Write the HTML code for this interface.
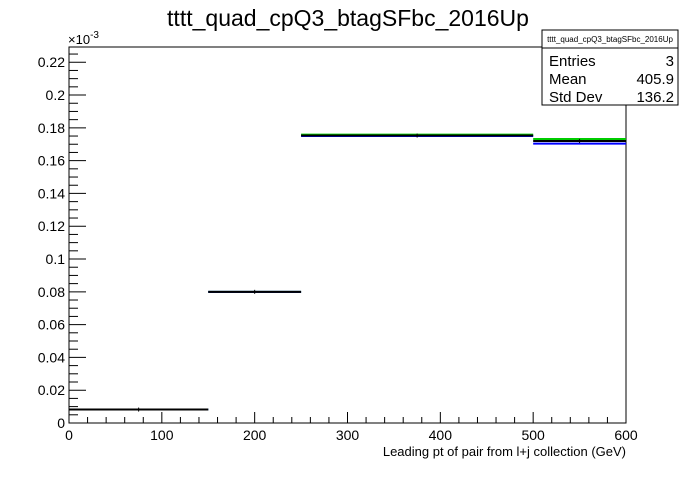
<!DOCTYPE html>
<html><head><meta charset="utf-8"><style>
body{margin:0;background:#fff;font-family:"Liberation Sans",sans-serif}
</style></head><body>
<svg width="696" height="472" xmlns="http://www.w3.org/2000/svg" font-family="Liberation Sans, sans-serif">
<rect width="696" height="472" fill="#fff"/>
<text x="348" y="26" font-size="23" text-anchor="middle">tttt_quad_cpQ3_btagSFbc_2016Up</text>
<rect x="69" y="47" width="557" height="376" fill="none" stroke="#000"/>
<g id="axes"></g>
<g id="marks"></g>
<text x="68" y="44" font-size="13">×10<tspan dy="-6" font-size="10">-3</tspan></text>
<text x="626" y="456" font-size="13" text-anchor="end">Leading pt of pair from l+j collection (GeV)</text>
<g>
<rect x="542" y="30" width="136" height="75" fill="#fff" stroke="#000"/>
<line x1="542" y1="48" x2="678" y2="48" stroke="#000"/>
<text x="610" y="42" font-size="8" text-anchor="middle">tttt_quad_cpQ3_btagSFbc_2016Up</text>
<text x="549" y="66" font-size="15">Entries</text><text x="674" y="66" font-size="15" text-anchor="end">3</text>
<text x="549" y="84" font-size="15">Mean</text><text x="674" y="84" font-size="15" text-anchor="end">405.9</text>
<text x="549" y="102" font-size="15">Std Dev</text><text x="674" y="102" font-size="15" text-anchor="end">136.2</text>
</g>
</svg>
<script>
const binEdges=[0,150,250,500,600];
const nominal=[0.0082,0.0800,0.1753,0.1720];
const upVar=[0.0082,0.0800,0.1759,0.1732];
const downVar=[0.0082,0.0800,0.1750,0.1704];
const xTicks=[0,100,200,300,400,500,600];
const yTicks=[0,0.02,0.04,0.06,0.08,0.1,0.12,0.14,0.16,0.18,0.2,0.22];
const yTickLabels=["0","0.02","0.04","0.06","0.08","0.1","0.12","0.14","0.16","0.18","0.2","0.22"];
const X0=69,X1=626,Y0=423,Y1=47,XMAX=600,YMAX=0.2293;
const sx=v=>X0+(v/XMAX)*(X1-X0), sy=v=>Y0-(v/YMAX)*(Y0-Y1);
const NS="http://www.w3.org/2000/svg";
function mk(tag,a,parent){const e=document.createElementNS(NS,tag);for(const k in a)e.setAttribute(k,a[k]);parent.appendChild(e);return e;}
const ax=document.getElementById('axes'),mg=document.getElementById('marks');
for(let v=0;v<=600;v+=20){const major=v%100===0;
 const t=mk('line',{x1:sx(v),x2:sx(v),y1:Y0,y2:Y0-(major?11:6),stroke:'#000'},ax);
 
 }
xTicks.forEach(v=>{const t=mk('text',{x:sx(v),y:Y0+17,'font-size':14,'text-anchor':'middle'},ax);t.textContent=v;
 
 });
for(let i=0;i<=45;i++){const v=i*0.005;if(v>YMAX)break;const major=i%4===0;
 const t=mk('line',{x1:X0,x2:X0+(major?17:9),y1:sy(v),y2:sy(v),stroke:'#000'},ax);
 
 }
yTicks.forEach((v,i)=>{const t=mk('text',{x:X0-4,y:sy(v)+5,'font-size':14,'text-anchor':'end'},ax);t.textContent=yTickLabels[i];
 
 });
function series(vals,color,name){vals.forEach((v,i)=>{
 const l=mk('line',{x1:sx(binEdges[i]),x2:sx(binEdges[i+1]),y1:sy(v),y2:sy(v),stroke:color,'stroke-width':2},mg);
 
 });}
series(upVar,'#00cc00','up-variation');
series(downVar,'#0000ff','down-variation');
series(nominal,'#000','nominal');
nominal.forEach((v,i)=>{const c=(binEdges[i]+binEdges[i+1])/2;
 const e=mk('line',{x1:sx(c),x2:sx(c),y1:sy(v)-2,y2:sy(v)+2,stroke:'#000'},mg);
 
 });
</script>
</body></html>
